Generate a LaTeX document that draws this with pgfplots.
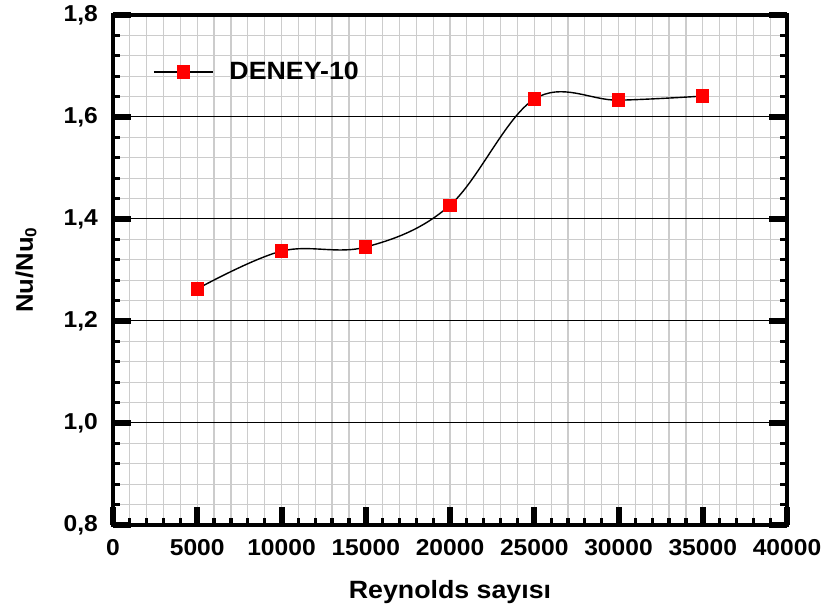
\documentclass[border=0pt]{standalone}
\usepackage{fontspec}
\setmainfont{Liberation Sans}[FakeStretch=1.07]
\usepackage{pgfplots}
\pgfplotsset{compat=1.18}
\begin{document}
\begin{tikzpicture}
\path[use as bounding box] (-56.5pt,-44.5pt) rectangle (355.5pt,262.5pt);
\begin{axis}[
  at={(0,0)}, anchor=south west,
  scale only axis, width=337pt, height=255pt,
  xmin=0, xmax=40000, ymin=0.8, ymax=1.8,
  xtick={0,5000,...,40000},
  ytick={0.8,1.0,1.2,1.4,1.6,1.8},
  minor xtick={0,1000,...,40000},
  minor y tick num=4,
  scaled x ticks=false,
  xtick pos=left,
  tick align=inside,
  major tick length=9pt, minor tick length=3.5pt,
  major tick style={line width=3pt, black},
  minor tick style={line width=1.6pt, black},
  axis line style={line width=2.3pt, black},
  ymajorgrids, xminorgrids, yminorgrids,
  major grid style={black, line width=0.5pt},
  minor grid style={gray!40, line width=0.6pt},
  /pgf/number format/assume math mode=true,
  x tick label style={/pgf/number format/1000 sep={}, font=\fontsize{11.5}{13}\selectfont\bfseries, yshift=-3.5pt},
  y tick label style={/pgf/number format/.cd, use comma, fixed, fixed zerofill, precision=1, /tikz/.cd, font=\fontsize{11.5}{13}\selectfont\bfseries, xshift=-4pt},
  xlabel={Reynolds sayısı},
  ylabel={Nu/Nu$_{\mathbf{0}}$},
  every axis x label/.style={at={(axis description cs:0.5,-0.131)}, anchor=center, font=\fontsize{12.5}{14}\selectfont\bfseries},
  every axis y label/.style={at={(axis description cs:-0.129,0.5)}, anchor=center, rotate=90, font=\fontsize{12}{14}\selectfont\bfseries},
  legend style={draw=none, fill=none, at={(0.05,0.888)}, anchor=west, font=\fontsize{12.5}{15}\selectfont\bfseries},
  legend image code/.code={\draw[mark repeat=2, mark phase=2, #1] plot coordinates {(0pt,0pt) (14.75pt,0pt) (29.5pt,0pt)}; \path (35.5pt,0pt);},
]
\addplot[black, line width=0.7pt, smooth, tension=0.6, mark=square*, mark size=3pt, mark options={fill=red, draw=red, solid}]
coordinates {
(5000,1.263)
(10000,1.337)
(15000,1.345)
(20000,1.427)
(25000,1.635)
(30000,1.633)
(35000,1.641)
};
\addlegendentry{DENEY-10}
\end{axis}
\end{tikzpicture}
\end{document}
